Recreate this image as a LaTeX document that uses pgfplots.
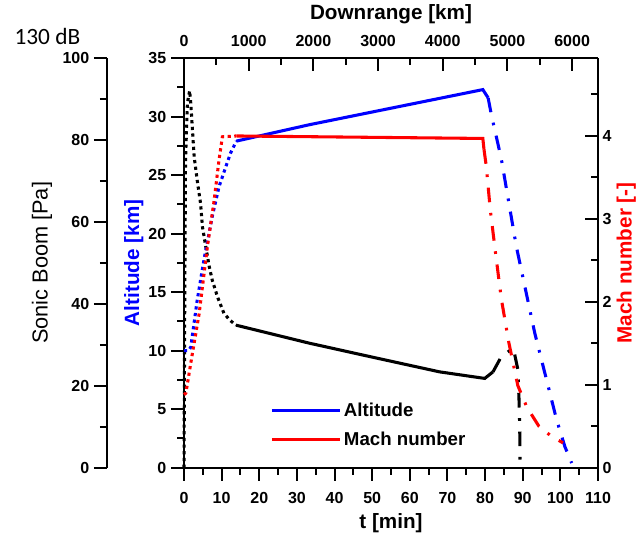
\documentclass[border=0pt]{standalone}
\usepackage{fontspec}
\setmainfont{Liberation Sans}
\newfontfamily\calibri{Carlito}
\usepackage{pgfplots}
\pgfplotsset{compat=1.18}

% 1 px of the reference = 0.75pt
\pgfplotsset{
  chart/.style={
    scale only axis, width=310.5pt, height=307.3pt,
    xmin=0, xmax=110,
    axis line style={-, line width=1.5pt},
    every tick/.style={black, line width=1.5pt},
    major tick length=9.75pt, minor tick length=5.25pt,
    tick label style={font=\fontsize{12}{14}\selectfont\bfseries},
    label style={font=\fontsize{15.5}{18}\selectfont\bfseries},
    /pgf/number format/assume math mode=true,
    /pgf/number format/1000 sep={},
    clip=false,
  },
  dots/.style={line width=2.3pt, dash pattern=on 2.4pt off 2.6pt},
  full/.style={line width=2.3pt},
  dashdot/.style={line width=2.3pt, dash pattern=on 11pt off 8pt on 2pt off 8pt},
}

\begin{document}
\begin{tikzpicture}
\useasboundingbox (-138pt,-50.5pt) rectangle (342.75pt,350.8pt);

% sonic boom (outer left axis)
\begin{axis}[chart, at={(-57.75pt,0pt)}, width=368.25pt,
  xmin=-20.46, xmax=110, ymin=0, ymax=100,
  hide x axis, axis y line*=left, tick align=outside,
  ytick={0,20,...,100}, minor ytick={10,30,...,90},
  ylabel={Sonic Boom [Pa]},
  ylabel style={font=\fontsize{16.3}{18}\selectfont\mdseries}, ylabel shift=1pt,
  title={\calibri\mdseries\fontsize{17.5}{20}\selectfont 130 dB},
  title style={at={(rel axis cs:0,1)}, anchor=base east, xshift=-16.5pt, yshift=3.8pt},
]
\addplot[black, dots] coordinates {(0,0) (0.2,40) (0.4,75) (0.9,89) (1.5,92) (1.8,88.9)
  (2.7,75.9) (3.5,70.2) (4.4,64.5) (4.9,58.8) (5.8,53.9) (6.7,49.1) (7.5,45.8)
  (8.9,41.7) (10.6,37.7) (12.2,36.0) (13.8,34.8)};
\addplot[black, full] coordinates {(13.8,34.8) (33.3,30.4) (50,27) (67.9,23.4) (79.9,21.8) (82.1,23.4)};
\addplot[black, dashdot] coordinates {(82.1,23.4) (84.3,27.1) (87.5,29.2) (88.7,24) (89.0,17) (89.2,10) (89.3,0)};
\end{axis}

% altitude / time (main axis)
\begin{axis}[chart, ymin=0, ymax=35,
  axis x line*=bottom, axis y line*=left, tick align=outside,
  xtick={0,10,...,110}, minor x tick num=1,
  ytick={0,5,...,35}, minor y tick num=1,
  xticklabel style={yshift=-5pt},
  xlabel={t [min]}, xlabel style={yshift=-1pt},
  ylabel={Altitude [km]}, ylabel style={blue}, ylabel shift=-3pt,
  legend style={draw=none, fill=none, at={(0.198,0.172)}, anchor=north west,
    font=\fontsize{14}{16}\selectfont\bfseries, row sep=6pt},
  legend cell align=left,
  legend image code/.code={\draw[#1, line width=2.3pt] (0pt,0pt) -- (51pt,0pt);},
]
\addplot[blue, dots, forget plot] coordinates {(0,10) (1.2,10) (1.8,10.3) (3.5,14.3) (5.3,17.75)
  (7.5,21.45) (9.3,24.0) (11.1,25.7) (12.4,26.9) (13.9,27.9)};
\addplot[blue, full, forget plot] coordinates {(13.9,27.9) (33.3,29.3) (79.4,32.3) (80.8,31.6)};
\addplot[blue, dashdot, forget plot] coordinates {(80.8,31.6) (81.7,30.1) (84.3,26.4) (88.3,18.9)
  (93.2,11.5) (99,4.1) (101.2,1.8) (103,0.4)};
\addlegendimage{blue}\addlegendentry{Altitude}
\addlegendimage{red}\addlegendentry{Mach number}
\end{axis}

% downrange (top axis)
\begin{axis}[chart, xmin=0, xmax=6400, ymin=0, ymax=1,
  hide y axis, axis x line*=top, tick align=inside,
  xtick={0,1000,...,6000}, minor x tick num=1,
  xticklabel style={yshift=5pt},
  xlabel={Downrange [km]}, xlabel style={yshift=2pt},
]
\end{axis}

% mach number (right axis)
\begin{axis}[chart, ymin=0, ymax=4.94,
  hide x axis, axis y line*=right, tick align=inside,
  ytick={0,1,...,4}, minor ytick={0.5,1.5,...,4.5},
  ylabel={Mach number [-]}, ylabel style={red}, ylabel shift=-3pt,
]
\addplot[red, dots] coordinates {(0,0.88) (0.5,0.90) (2.2,1.37) (4,1.85) (6.2,2.66) (8,3.22)
  (9.3,3.71) (10.2,3.99) (13.9,4.0)};
\addplot[red, full] coordinates {(13.9,4.0) (79.4,3.97) (79.7,3.84)};
\addplot[red, dashdot] coordinates {(79.7,3.84) (80.3,3.64) (81.4,3.10) (82.8,2.58) (84.3,2.04)
  (86.3,1.51) (88.7,0.99) (91.1,0.73) (94.3,0.50) (97.6,0.38) (100.7,0.30)};
\end{axis}
\end{tikzpicture}
\end{document}
